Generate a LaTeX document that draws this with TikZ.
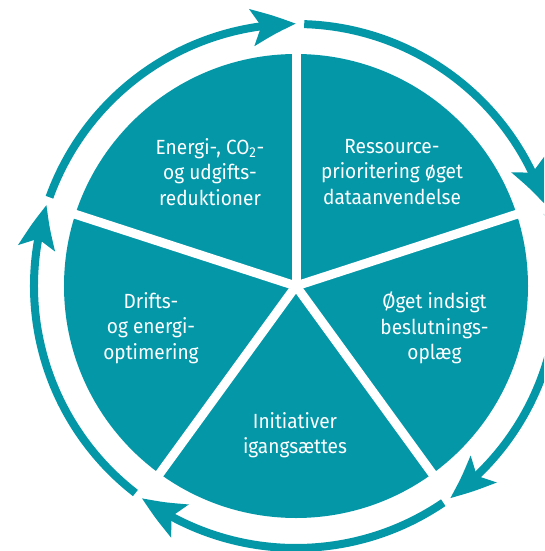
\documentclass[tikz,border=0pt]{standalone}
\usepackage{fontspec}
\setmainfont{Fira Sans}[FakeStretch=0.93]
\usetikzlibrary{arrows.meta,bending}
\definecolor{tealc}{HTML}{0397A8}
\begin{document}
\begin{tikzpicture}[x=1pt,y=1pt,
  lab/.style={text=white, align=center, font=\fontsize{20.5}{25.5}\selectfont, inner sep=0pt},
  ring/.style={draw=tealc, line width=8pt, -{Stealth[length=44pt,width=36pt,inset=9pt,bend]}},
  gapline/.style={draw=white, line width=9pt}]
\useasboundingbox (-296,-265) rectangle (248,286);
\clip (-296,-265) rectangle (248,286);
\coordinate (c) at (0,0);
\fill[tealc] (c) circle (232);
\foreach \a in {90,18,-54,-126,162} \draw[gapline] (c) -- (\a:236);
% cycle arrows
\coordinate (s1) at (160.2:262);
\coordinate (s2) at (88.2:262);
\coordinate (s3) at (16.2:262);
\coordinate (s4) at (-55.8:262);
\coordinate (s5) at (-127.8:262);
\draw[ring] (s1) arc[start angle=160.2, end angle=90, radius=262];
\draw[ring] (s2) arc[start angle=88.2, end angle=18, radius=262];
\draw[ring] (s3) arc[start angle=16.2, end angle=-54, radius=262];
\draw[ring] (s4) arc[start angle=-55.8, end angle=-126, radius=262];
\draw[ring] (s5) arc[start angle=-127.8, end angle=-198, radius=262];
% labels
\node[lab] (t1) at (-86,114) {Energi-, CO\textsubscript{2}-\\og udgifts-\\reduktioner};
\node[lab] (t2) at (96,114) {Ressource-\\prioritering øget\\dataanvendelse};
\node[lab] (t3) at (138.5,-42) {Øget indsigt\\beslutnings-\\oplæg};
\node[lab] (t4) at (-1,-149) {Initiativer\\igangsættes};
\node[lab] (t5) at (-145,-42) {Drifts-\\og energi-\\optimering};
\end{tikzpicture}
\end{document}
